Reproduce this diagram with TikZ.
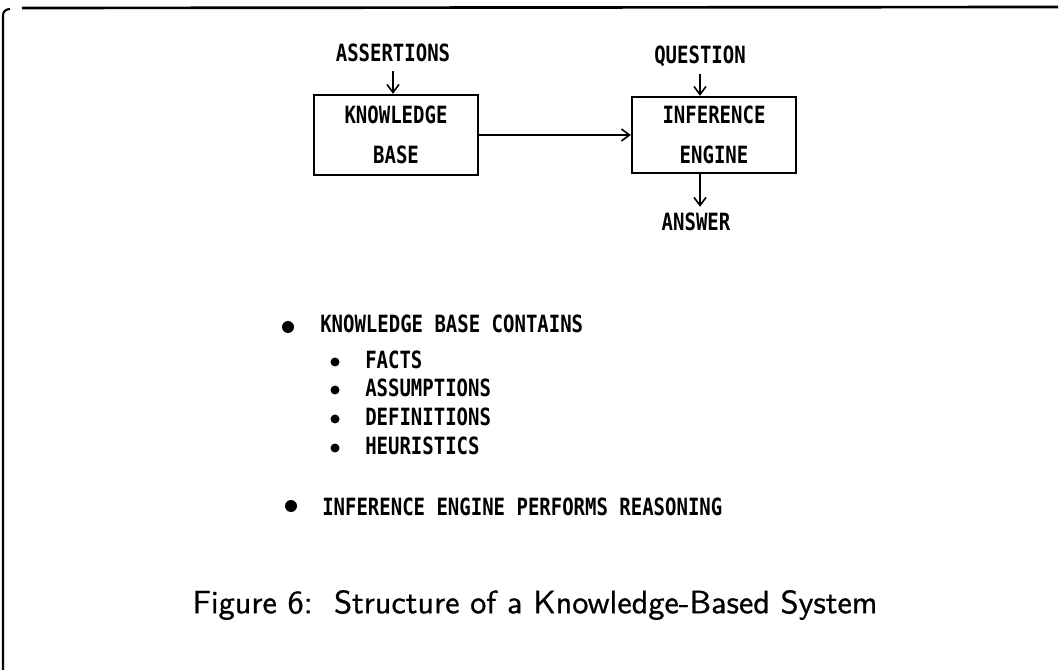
\documentclass[tikz,border=0pt]{standalone}
\usepackage{fontspec}
\usetikzlibrary{arrows.meta,calc}
% monospaced condensed face for the diagram and list text
\newfontfamily\typefont[FakeStretch=0.80]{DejaVu Sans Mono Bold}
% slightly heavier sans for the caption line
\newfontfamily\capfont{lmsans10-regular}[Extension=.otf, FakeBold=0.8]
\begin{document}
\begin{tikzpicture}[x=0.75pt,y=-0.75pt,
  lbl/.style={font=\typefont\fontsize{17.8}{19}\selectfont, inner sep=0pt},
  boxnode/.style={draw, line width=1.8pt, minimum width=164*0.75pt, minimum height=80*0.75pt,
                  align=center, inner sep=0pt, font=\typefont\fontsize{17.8}{30}\selectfont},
  flow/.style={line width=1.3pt, -{Straight Barb[length=6pt,width=9pt,line width=1.2pt]}},
  bigdot/.style={circle, fill, inner sep=0pt, minimum size=12*0.75pt},
  smalldot/.style={circle, fill, inner sep=0pt, minimum size=9*0.75pt},
  item/.style={lbl, anchor=west}]
\useasboundingbox (0,0) rectangle (1061,670);
% page frame (top and left edges)
\draw[line width=1.6pt] (3,670) -- (3,15) to[out=90,in=180] (10,9);
\draw[line width=2pt] (22,8) -- (1058,7);

% block diagram
\node[boxnode] (kb) at (396,135) {KNOWLEDGE\\BASE};
\node[boxnode, minimum height=76*0.75pt] (ie) at (714,135) {INFERENCE\\ENGINE};
\node[lbl] (ass) at (393,53) {ASSERTIONS};
\node[lbl] (q) at (700,56) {QUESTION};
\node[lbl] (ans) at (696,222) {ANSWER};
\draw[flow] ($(ass.south)+(0,9)$) -- (kb.north -| ass.south);
\draw[flow] ($(q.south)+(0,7)$) -- (ie.north -| q.south);
\draw[flow] (kb.east) -- (ie.west);
\draw[flow] (ie.south -| q.south) -- ($(ans.north -| q.south)+(0,-6)$);

% bullet list
\node[bigdot] (b1) at (288,327) {};
\node[item] (t1) at (320,324) {KNOWLEDGE BASE CONTAINS};
\node[smalldot] (s1) at (335,362) {};
\node[item] (u1) at (365,360) {FACTS};
\node[smalldot] (s2) at (335,390) {};
\node[item] (u2) at (365,388) {ASSUMPTIONS};
\node[smalldot] (s3) at (335,419) {};
\node[item] (u3) at (365,417) {DEFINITIONS};
\node[smalldot] (s4) at (335,448) {};
\node[item] (u4) at (365,446) {HEURISTICS};
\node[bigdot] (b2) at (291,506) {};
\node[item] (t2) at (322,507) {INFERENCE ENGINE PERFORMS REASONING};

% caption
\node[font=\capfont\fontsize{24.2}{27}\selectfont, inner sep=0pt] (cap) at (535,605)
  {Figure 6:\ \ Structure of a Knowledge-Based System};
\end{tikzpicture}
\end{document}
